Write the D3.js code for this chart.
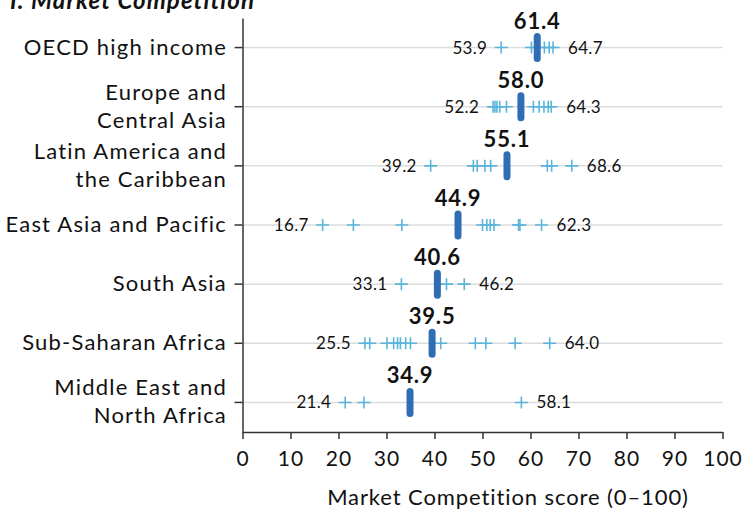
<!DOCTYPE html>
<html>
<head>
<meta charset="utf-8">
<script src="https://cdn.jsdelivr.net/npm/d3@7"></script>
<style>
  html, body { margin: 0; padding: 0; background: #fff; }
  svg { display: block; font-family: Lato, "Noto Sans", sans-serif; }
</style>
</head>
<body>
<svg id="chart" width="744" height="515"></svg>
<script>
// ---- data ----
const chartTitle = "I. Market Competition";
const axisTitle = "Market Competition score (0–100)";
const categories = [
  "OECD high income",
  "Europe and Central Asia",
  "Latin America and the Caribbean",
  "East Asia and Pacific",
  "South Asia",
  "Sub-Saharan Africa",
  "Middle East and North Africa"
];
const categoryLines = [
  ["OECD high income"],
  ["Europe and", "Central Asia"],
  ["Latin America and", "the Caribbean"],
  ["East Asia and Pacific"],
  ["South Asia"],
  ["Sub-Saharan Africa"],
  ["Middle East and", "North Africa"]
];
const means = [61.4, 58.0, 55.1, 44.9, 40.6, 39.5, 34.9];
const oecdScores = [53.9, 60.2, 61.2, 62.9, 63.9, 64.7];
const ecaScores = [52.2, 52.6, 53.0, 53.6, 55.0, 60.6, 61.8, 62.8, 63.7, 64.3];
const lacScores = [39.2, 48.1, 48.9, 50.5, 51.7, 63.5, 64.4, 68.6];
const eapScores = [16.7, 23.1, 33.2, 50.0, 50.9, 51.6, 52.4, 57.5, 57.8, 62.3];
const sarScores = [33.1, 42.5, 46.2];
const ssaScores = [25.5, 26.5, 30.1, 31.5, 32.3, 32.9, 34.0, 35.0, 41.3, 48.5, 50.7, 56.8, 64.0];
const menaScores = [21.4, 25.3, 58.1];
const economyScores = [oecdScores, ecaScores, lacScores, eapScores, sarScores, ssaScores, menaScores];
const xTicks = [0, 10, 20, 30, 40, 50, 60, 70, 80, 90, 100];

// ---- layout ----
const svg = d3.select("#chart");
const x = d3.scaleLinear().domain([0, 100]).range([242.5, 722.5]);
const y = d3.scaleBand().domain(categories).range([18, 432]).padding(0);
const yc = c => y(c) + y.bandwidth() / 2;
const fmt = d3.format(".1f");

const blue = "#2f6db4";
const light = "#5ab4dc";
const font = "Lato, 'Noto Sans', sans-serif";

// title
svg.append("text")
  .attr("x", 10).attr("y", 9)
  .attr("font-size", 24).attr("font-weight", 700).attr("font-style", "italic")
  .attr("fill", "#111").attr("letter-spacing", 1.1)
  .text(chartTitle);

// gridlines
svg.append("g").selectAll("line").data(categories).join("line")
  .attr("x1", x(0)).attr("x2", x(100))
  .attr("y1", d => yc(d)).attr("y2", d => yc(d))
  .attr("stroke", "#dcdcdc").attr("stroke-width", 1.5);

// x axis
const xAxis = svg.append("g")
  .attr("transform", `translate(0,${y.range()[1]})`)
  .call(d3.axisBottom(x).tickValues(xTicks).tickSize(7).tickSizeOuter(0).tickPadding(12).tickFormat(d3.format("d")));
xAxis.select(".domain").attr("stroke", "#333").attr("stroke-width", 1.5);
xAxis.selectAll(".tick line").attr("stroke", "#333").attr("stroke-width", 1.5);
xAxis.selectAll(".tick text").attr("font-size", 21).attr("fill", "#111")
  .attr("font-family", font).attr("letter-spacing", 1.0);

// y axis
const yAxis = svg.append("g")
  .attr("transform", `translate(${x(0)},0)`)
  .call(d3.axisLeft(y).tickSize(8).tickSizeOuter(0).tickFormat(""));
yAxis.select(".domain").attr("stroke", "#333").attr("stroke-width", 1.5);
yAxis.selectAll(".tick line").attr("stroke", "#333").attr("stroke-width", 1.5);

// category labels
const catG = svg.append("g");
categories.forEach((c, i) => {
  const lines = categoryLines[i];
  const t = catG.append("text")
    .attr("x", 227).attr("text-anchor", "end")
    .attr("font-size", 22).attr("fill", "#111").attr("letter-spacing", 1.2);
  const lh = 28;
  const base = yc(c) + 7 - (lines.length - 1) * lh / 2;
  lines.forEach((ln, j) => {
    t.append("tspan").attr("x", 227).attr("y", base + j * lh).text(ln);
  });
});

// plus markers
const pts = [];
economyScores.forEach((arr, i) => arr.forEach(v => pts.push({c: categories[i], v})));
svg.append("g").selectAll("path").data(pts).join("path")
  .attr("d", d => {
    const cx = x(d.v), cy = yc(d.c);
    return `M${cx - 6.5},${cy}h13M${cx},${cy - 6}v12`;
  })
  .attr("stroke", light).attr("stroke-width", 1.6).attr("fill", "none");

// min / max labels
const rows = categories.map((c, i) => ({
  c, mean: means[i], min: d3.min(economyScores[i]), max: d3.max(economyScores[i])
}));
const lab = svg.append("g").attr("font-size", 17).attr("fill", "#111").attr("letter-spacing", 0.3);
lab.selectAll("text.min").data(rows).join("text").attr("class", "min")
  .attr("x", d => x(d.min) - 14).attr("y", d => yc(d.c) + 6)
  .attr("text-anchor", "end").text(d => fmt(d.min));
lab.selectAll("text.max").data(rows).join("text").attr("class", "max")
  .attr("x", d => x(d.max) + 15).attr("y", d => yc(d.c) + 6)
  .attr("text-anchor", "start").text(d => fmt(d.max));

// mean bars
svg.append("g").selectAll("rect").data(rows).join("rect")
  .attr("x", d => x(d.mean) - 3.5).attr("y", d => yc(d.c) - 14.5)
  .attr("width", 7).attr("height", 29).attr("rx", 3.5)
  .attr("fill", blue);

// mean labels
svg.append("g").selectAll("text").data(rows).join("text")
  .attr("x", d => x(d.mean)).attr("y", d => yc(d.c) - 19)
  .attr("text-anchor", "middle")
  .attr("font-size", 22).attr("font-weight", 700).attr("fill", "#111")
  .attr("letter-spacing", 0.8)
  .text(d => fmt(d.mean));

// axis title
svg.append("text")
  .attr("x", 508).attr("y", 505)
  .attr("text-anchor", "middle").attr("font-size", 22).attr("fill", "#111")
  .attr("letter-spacing", 0.9)
  .text(axisTitle);
</script>
</body>
</html>
